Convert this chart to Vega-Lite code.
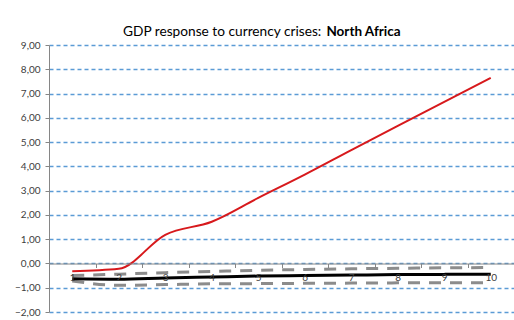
{
  "$schema": "https://vega.github.io/schema/vega-lite/v6.json",
  "width": 465,
  "height": 267,
  "autosize": "none",
  "padding": {"left": 49, "top": 45, "right": 0, "bottom": 8},
  "background": "white",
  "title": {
    "text": "GDP response to currency crises:",
    "subtitle": "\u200b\u00a0\u00a0\u00a0\u00a0\u00a0\u00a0\u00a0\u00a0\u00a0\u00a0\u00a0\u00a0\u00a0\u00a0\u00a0\u00a0\u00a0\u00a0\u00a0\u00a0\u00a0\u00a0\u00a0\u00a0\u00a0\u00a0\u00a0\u00a0\u00a0\u00a0\u00a0\u00a0\u00a0\u00a0\u00a0\u00a0\u00a0\u00a0\u00a0\u00a0\u00a0\u00a0\u00a0\u00a0\u00a0\u00a0\u00a0\u00a0\u00a0\u00a0\u00a0\u00a0\u00a0\u00a0\u00a0\u00a0\u00a0\u00a0\u00a0\u00a0\u00a0\u00a0North Africa",
    "anchor": "start",
    "frame": "group",
    "dx": 74,
    "dy": 3,
    "font": "Lato",
    "fontSize": 13.7,
    "fontWeight": "normal",
    "color": "#000000",
    "subtitleFont": "Lato",
    "subtitleFontSize": 13.5,
    "subtitleFontWeight": "bold",
    "subtitleColor": "#000000",
    "subtitlePadding": -13.6,
    "offset": 4
  },
  "config": {
    "view": {"stroke": null},
    "font": "Lato"
  },
  "data": {
    "values": [
      {"x": 1, "s": "nafr", "v": -0.32}, {"x": 2, "s": "nafr", "v": -0.22}, {"x": 3, "s": "nafr", "v": 1.18}, {"x": 4, "s": "nafr", "v": 1.72}, {"x": 5, "s": "nafr", "v": 2.7},
      {"x": 6, "s": "nafr", "v": 3.66}, {"x": 7, "s": "nafr", "v": 4.67}, {"x": 8, "s": "nafr", "v": 5.67}, {"x": 9, "s": "nafr", "v": 6.66}, {"x": 10, "s": "nafr", "v": 7.65},
      {"x": 1, "s": "mid", "v": -0.63}, {"x": 2, "s": "mid", "v": -0.65}, {"x": 3, "s": "mid", "v": -0.6}, {"x": 4, "s": "mid", "v": -0.56}, {"x": 5, "s": "mid", "v": -0.52},
      {"x": 6, "s": "mid", "v": -0.5}, {"x": 7, "s": "mid", "v": -0.48}, {"x": 8, "s": "mid", "v": -0.46}, {"x": 9, "s": "mid", "v": -0.45}, {"x": 10, "s": "mid", "v": -0.44},
      {"x": 1, "s": "upper", "v": -0.5}, {"x": 2, "s": "upper", "v": -0.44}, {"x": 3, "s": "upper", "v": -0.38}, {"x": 4, "s": "upper", "v": -0.33}, {"x": 5, "s": "upper", "v": -0.28},
      {"x": 6, "s": "upper", "v": -0.25}, {"x": 7, "s": "upper", "v": -0.22}, {"x": 8, "s": "upper", "v": -0.2}, {"x": 9, "s": "upper", "v": -0.18}, {"x": 10, "s": "upper", "v": -0.17},
      {"x": 1, "s": "lower", "v": -0.72}, {"x": 2, "s": "lower", "v": -0.9}, {"x": 3, "s": "lower", "v": -0.87}, {"x": 4, "s": "lower", "v": -0.84}, {"x": 5, "s": "lower", "v": -0.83},
      {"x": 6, "s": "lower", "v": -0.82}, {"x": 7, "s": "lower", "v": -0.81}, {"x": 8, "s": "lower", "v": -0.8}, {"x": 9, "s": "lower", "v": -0.8}, {"x": 10, "s": "lower", "v": -0.79}
    ]
  },
  "encoding": {
    "x": {
      "field": "x", "type": "ordinal",
      "scale": {"type": "band", "paddingInner": 0, "paddingOuter": 0},
      "axis": {
        "title": null, "labelAngle": 0, "offset": -48.5,
        "domainColor": "#868686", "domainWidth": 1,
        "tickColor": "#868686", "tickSize": 4, "tickBand": "extent",
        "labelColor": "#404040", "labelFontSize": 10, "labelPadding": 5,
        "labelFont": "Lato", "grid": false, "zindex": 1
      }
    },
    "y": {
      "field": "v", "type": "quantitative",
      "scale": {"domain": [-2, 9], "nice": false, "zero": false},
      "axis": {
        "title": null, "values": [-2, -1, 0, 1, 2, 3, 4, 5, 6, 7, 8, 9],
        "labelExpr": "replace(format(datum.value, '.2f'), '.', ',')",
        "domainColor": "#868686", "tickColor": "#868686", "tickSize": 4,
        "labelColor": "#404040", "labelFontSize": 10, "labelPadding": 5, "labelFont": "Lato",
        "grid": true, "gridColor": "#5B9BD5", "gridDash": [4, 3], "gridWidth": 1.3
      }
    }
  },
  "layer": [
    {
      "transform": [{"filter": "datum.s === 'upper' || datum.s === 'lower'"}],
      "mark": {"type": "line", "color": "#8C8C8C", "strokeWidth": 3, "strokeDash": [12, 9], "interpolate": "monotone"},
      "encoding": {"detail": {"field": "s"}}
    },
    {
      "transform": [{"filter": "datum.s === 'mid'"}],
      "mark": {"type": "line", "color": "#000000", "strokeWidth": 3, "interpolate": "monotone"}
    },
    {
      "transform": [{"filter": "datum.s === 'nafr'"}],
      "mark": {"type": "line", "color": "#D7191C", "strokeWidth": 2, "interpolate": "monotone"}
    }
  ]
}
